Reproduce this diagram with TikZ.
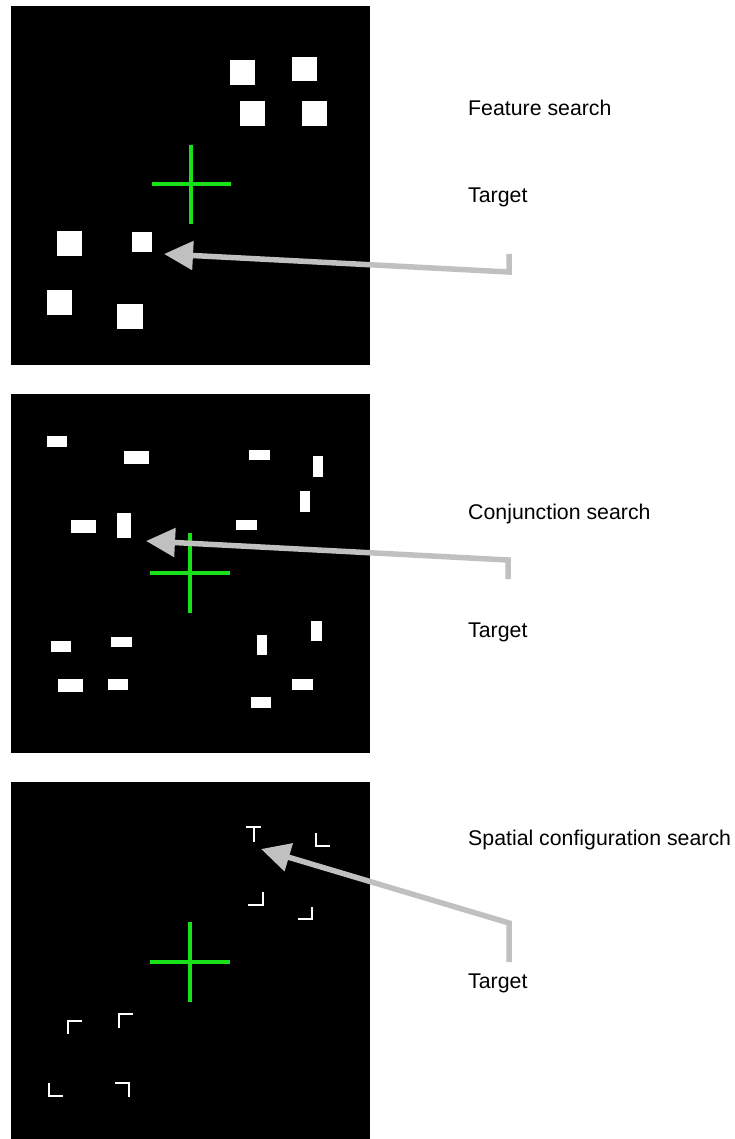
\documentclass[tikz,border=0pt]{standalone}
\usepackage{fontspec}
\setmainfont{Liberation Sans}
\usetikzlibrary{arrows.meta}
\definecolor{crossgreen}{RGB}{25,225,25}
\definecolor{arrowgray}{RGB}{192,192,192}
\begin{document}
\begin{tikzpicture}[x=1pt,y=-1pt,
  panel/.style={fill=black},
  item/.style={fill=white},
  fixcross/.style={draw=crossgreen,line width=3.2pt},
  glyph/.style={draw=white,line width=2.4pt},
  pointer/.style={draw=arrowgray,line width=5.5pt,-{Triangle[length=29pt,width=28pt]}},
  lbl/.style={anchor=base west,inner sep=0pt,font=\fontsize{21.3}{24}\selectfont}]
\useasboundingbox (0,0) rectangle (735,1139);
% panels
\fill[panel] (11,6) rectangle (370,365);
\fill[panel] (11,394) rectangle (370,753);
\fill[panel] (11,782) rectangle (370,1139);

% ---- panel 1: feature search
\fill[item] (230,60) rectangle (255,85);
\fill[item] (292,57) rectangle (317,81);
\fill[item] (240,101) rectangle (265,126);
\fill[item] (302,101) rectangle (327,126);
\fill[item] (57,231) rectangle (82,256);
\fill[item] (132,232) rectangle (152,252);
\fill[item] (47,290) rectangle (72,315);
\fill[item] (117,304) rectangle (143,329);
\draw[fixcross] (191,145) -- (191,224) (152,184) -- (231,184);

% ---- panel 2: conjunction search
\fill[item] (47,436) rectangle (67,447);
\fill[item] (124,451) rectangle (149,464);
\fill[item] (249,450) rectangle (270,460);
\fill[item] (313,456) rectangle (323,477);
\fill[item] (300,491) rectangle (310,512);
\fill[item] (71,520) rectangle (96,533);
\fill[item] (117,513) rectangle (131,538);
\fill[item] (236,520) rectangle (257,530);
\fill[item] (51,641) rectangle (71,652);
\fill[item] (111,637) rectangle (132,647);
\fill[item] (58,679) rectangle (83,692);
\fill[item] (108,679) rectangle (128,690);
\fill[item] (257,635) rectangle (267,655);
\fill[item] (311,621) rectangle (322,641);
\fill[item] (292,679) rectangle (313,690);
\fill[item] (251,697) rectangle (271,708);
\draw[fixcross] (190,533) -- (190,613) (150,573) -- (230,573);

% ---- panel 3: spatial configuration search
\draw[glyph] (246,827) -- (261,827) (254,827) -- (254,842);
\draw[glyph] (316,833) -- (316,846) -- (330,846);
\draw[glyph] (248,905) -- (263,905) -- (263,892);
\draw[glyph] (298,919) -- (312,919) -- (312,907);
\draw[glyph] (68,1034) -- (68,1021) -- (82,1021);
\draw[glyph] (119,1028) -- (119,1014) -- (133,1014);
\draw[glyph] (49,1083) -- (49,1096) -- (63,1096);
\draw[glyph] (115,1083) -- (129,1083) -- (129,1097);
\draw[fixcross] (190,922) -- (190,1002) (150,962) -- (230,962);

% ---- labels
\node[lbl] (feat) at (468,116) {Feature search};
\node[lbl] (t1) at (468,203) {Target};
\node[lbl] (conj) at (468,519) {Conjunction search};
\node[lbl] (t2) at (468,637) {Target};
\node[lbl] (spat) at (468,845) {Spatial configuration search};
\node[lbl] (t3) at (468,988) {Target};

% ---- arrows
\coordinate (a1s) at (509,254);
\coordinate (a1c) at (509,272);
\coordinate (a1t) at (164,254);
\draw[pointer] (a1s) -- (a1c) -- (a1t);
\coordinate (a2s) at (508,579);
\coordinate (a2c) at (508,560);
\coordinate (a2t) at (146,541);
\draw[pointer] (a2s) -- (a2c) -- (a2t);
\coordinate (a3s) at (509,962);
\coordinate (a3c) at (509,923);
\coordinate (a3t) at (261,849);
\draw[pointer] (a3s) -- (a3c) -- (a3t);
\end{tikzpicture}
\end{document}
